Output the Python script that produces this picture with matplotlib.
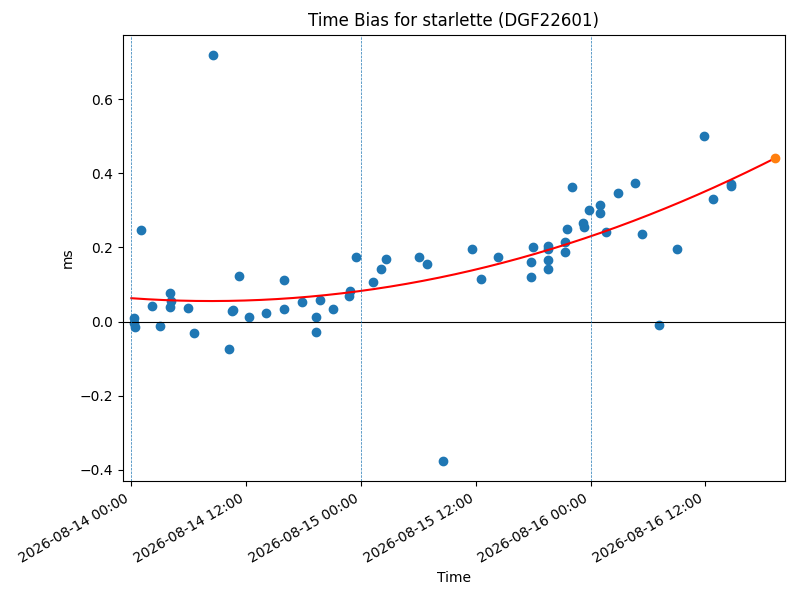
import numpy as np
import pandas as pd
import matplotlib
matplotlib.use("Agg")
import matplotlib.pyplot as plt
import matplotlib.dates as mdates

satellite = 'starlette'
station = 'DGF22601'
start = pd.Timestamp('2026-08-14 00:00')

# hours after start, bias in ms
hours = [0.3, 0.3, 0.4, 1.0, 2.2, 2.95, 4.0, 4.1, 4.0, 5.9, 6.6, 8.5, 10.2, 10.5, 10.6,
         11.3, 12.3, 14.1, 16.0, 16.0, 17.8, 19.3, 19.3, 19.7, 21.1, 22.8, 22.9, 23.5,
         25.3, 26.1, 26.6, 30.1, 30.9, 32.6,
         35.6, 36.5, 38.3, 41.8, 41.8, 42.0, 43.5, 43.6, 43.5, 43.6, 45.3, 45.3, 45.5,
         46.1, 47.2, 47.3, 47.8, 49.0, 49.0, 49.6, 50.9, 52.6, 53.4, 55.1, 57.0, 59.9,
         60.8, 62.7, 62.7]
bias = [0.010, -0.003, -0.015, 0.246, 0.043, -0.011, 0.078, 0.055, 0.040, 0.037, -0.031,
        0.719, -0.074, 0.028, 0.031, 0.122, 0.013, 0.022, 0.111, 0.035, 0.053, 0.011,
        -0.027, 0.057, 0.035, 0.068, 0.082, 0.173, 0.108, 0.142, 0.168, 0.173, 0.154,
        -0.376,
        0.195, 0.114, 0.175, 0.119, 0.162, 0.202, 0.205, 0.196, 0.166, 0.142, 0.214,
        0.189, 0.249, 0.362, 0.265, 0.254, 0.300, 0.315, 0.294, 0.241, 0.346, 0.373,
        0.235, -0.009, 0.197, 0.500, 0.332, 0.370, 0.366]

# quadratic trend (ms vs hours) and prediction point at the end
trend_coef = [1.1076e-4, -0.001837, 0.063]
trend_end = 67.3

def toTime(h):
    return start + pd.to_timedelta(np.asarray(h), unit='h')

fig, ax = plt.subplots(figsize=(8, 6), dpi=100)
fig.subplots_adjust(left=0.154, right=0.981, top=0.942, bottom=0.198)

ax.scatter(toTime(hours), bias)

th = np.linspace(0, trend_end, 200)
ax.plot(toTime(th), np.polyval(trend_coef, th), color='red')
ax.scatter(toTime([trend_end]), [np.polyval(trend_coef, trend_end)], color='tab:orange', zorder=3)

ax.axhline(0, color='black', linewidth=0.8)
for d in [0, 24, 48]:
    ax.axvline(toTime([d])[0], color='tab:blue', linestyle='--', linewidth=0.5)

ax.set_xlim(toTime([-0.85])[0], toTime([68.3])[0])
ax.xaxis.set_major_locator(mdates.HourLocator(byhour=[0, 12]))
ax.xaxis.set_major_formatter(mdates.DateFormatter('%Y-%m-%d %H:%M'))
plt.setp(ax.get_xticklabels(), rotation=30, ha='right')

ax.set_title(f'Time Bias for {satellite} ({station})')
ax.set_xlabel('Time')
ax.set_ylabel('ms')

fig.savefig('out.png')
